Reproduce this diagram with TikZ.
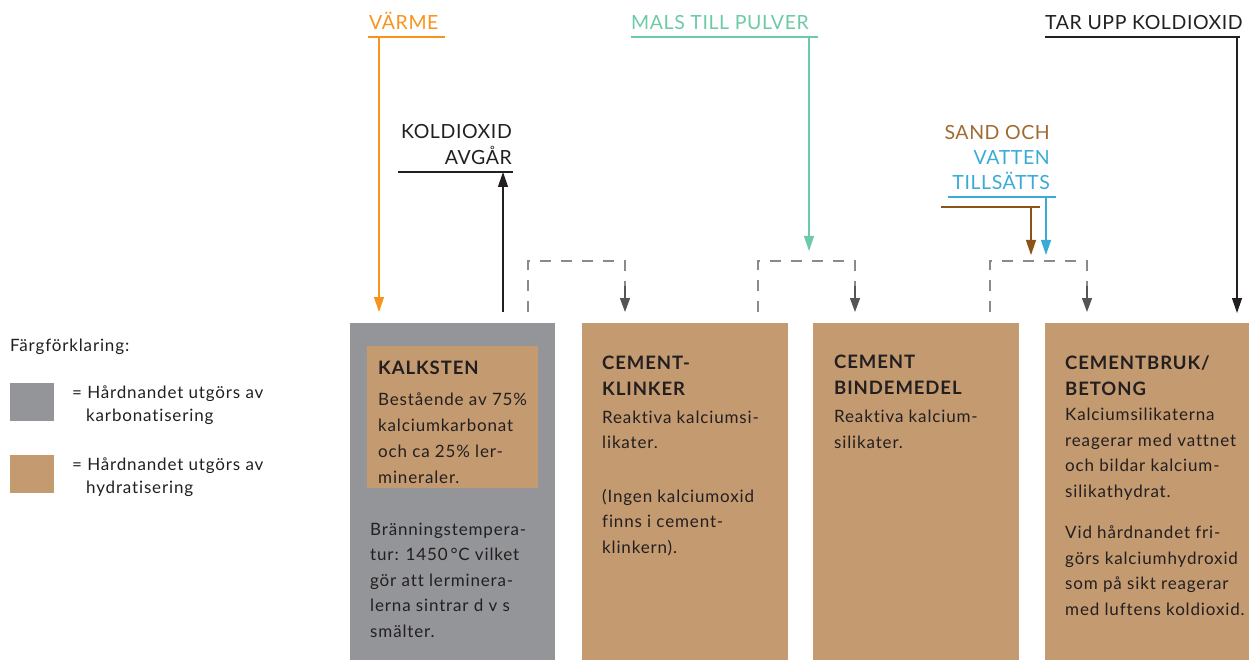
\documentclass[tikz,border=0pt]{standalone}
\usepackage{fontspec}
\setmainfont{Lato}[Ligatures=NoCommon]
\newfontfamily\boxfont{Lato}[LetterSpace=5,Ligatures=NoCommon]
\newfontfamily\labelfont{Lato}[LetterSpace=3,Ligatures=NoCommon]
\usetikzlibrary{arrows.meta,positioning}
\definecolor{kalkgray}{HTML}{939598}
\definecolor{cementtan}{HTML}{C49A70}
\definecolor{heatorange}{HTML}{F7941D}
\definecolor{millgreen}{HTML}{6CCBA6}
\definecolor{waterblue}{HTML}{3AABD6}
\definecolor{sandbrown}{HTML}{8B5316}
\definecolor{sandtext}{HTML}{A06A30}
\definecolor{textdark}{HTML}{231F20}
\definecolor{dashgray}{HTML}{8A8A8A}
\definecolor{tipgray}{HTML}{555555}

\begin{document}
\begin{tikzpicture}[
    x=1pt, y=-1pt,
    stage/.style={rectangle, anchor=north west, inner sep=0pt, minimum width=205pt, minimum height=337pt, fill=cementtan},
    swatch/.style={rectangle, anchor=north west, inner sep=0pt, minimum width=44pt, minimum height=38pt},
    title/.style={anchor=base west, align=left, inner sep=0pt, text=textdark, font=\boxfont\fontsize{18.5}{26}\selectfont\bfseries},
    body/.style={anchor=base west, align=left, inner sep=0pt, text=textdark, font=\boxfont\fontsize{17}{25.5}\selectfont},
    label/.style={anchor=base west, inner sep=0pt, font=\labelfont\fontsize{19.5}{26}\selectfont},
    arrow/.style={-{Triangle[length=15pt,width=10pt]}, line width=1.2pt},
    flow/.style={dashgray, line width=1.3pt, dash pattern=on 11pt off 10pt},
    flowtip/.style={-{Triangle[length=14pt,width=10pt]}, tipgray, line width=1.3pt}
]
\useasboundingbox (0,0) rectangle (1249,660);

% legend (base = last line)
\node[body, font=\boxfont\fontsize{17}{22}\selectfont] (legend) at (10,351) {Färgförklaring:};
\node[swatch, fill=kalkgray] (swgray) at (10,383) {};
\node[swatch, fill=cementtan] (swtan) at (10,455) {};
\node[body, font=\boxfont\fontsize{17}{23}\selectfont] (lgtext1) at (72,421) {= Hårdnandet utgörs av\\\hspace*{14pt}karbonatisering};
\node[body, font=\boxfont\fontsize{17}{23}\selectfont] (lgtext2) at (72,493) {= Hårdnandet utgörs av\\\hspace*{14pt}hydratisering};

% stages
\node[stage, fill=kalkgray] (kalk) at (350,323) {};
\node[rectangle, anchor=north west, inner sep=0pt, minimum width=171pt, minimum height=142pt, fill=cementtan] (kalkin) at (367,346) {};
\node[stage, minimum width=206pt] (klinker) at (582,323) {};
\node[stage, minimum width=206pt] (binde) at (813,323) {};
\node[stage, minimum width=204pt] (betong) at (1045,323) {};

\node[title] (kalkhd) at (378,374) {KALKSTEN};
\node[body, font=\boxfont\fontsize{17}{26}\selectfont] (kalktx) at (378,483) {Bestående av 75\%\\kalciumkarbonat\\och ca 25\% ler-\\mineraler.};
\node[body] (kalktx2) at (370,637) {Bränningstempera-\\tur: 1450\,°C vilket\\gör att lerminera-\\lerna sintrar d v s\\smälter.};

\node[title] (klinkhd) at (602,395) {CEMENT-\\KLINKER};
\node[body] (klinktx) at (602,553) {Reaktiva kalciumsi-\\likater.\\[28pt](Ingen kalciumoxid\\finns i cement-\\klinkern).};

\node[title] (bindhd) at (834,394) {CEMENT\\BINDEMEDEL};
\node[body] (bindtx) at (834,448) {Reaktiva kalcium-\\silikater.};

\node[title] (betonghd) at (1065,395) {CEMENTBRUK/\\BETONG};
\node[body] (betongtx) at (1065,615) {Kalciumsilikaterna\\reagerar med vattnet\\och bildar kalcium-\\silikathydrat.\\[16pt]Vid hårdnandet fri-\\görs kalciumhydroxid\\som på sikt reagerar\\med luftens koldioxid.};

% inputs and outputs
\node[label, text=heatorange] (heat) at (369,30) {VÄRME};
\draw[heatorange, line width=1.2pt] (368,37) -- (445,37);
\coordinate (heatin) at (379,37);
\draw[arrow, heatorange] (heatin) -- (379,312);

\node[label, anchor=base east, align=right, text=textdark] (co2out) at (512,165) {KOLDIOXID\\AVGÅR};
\draw[textdark, line width=1.1pt] (398,172) -- (513,172);
\draw[arrow, textdark] (503,312) -- (503,172);

\node[label, text=millgreen] (mill) at (631,30) {MALS TILL PULVER};
\draw[millgreen, line width=1.2pt] (631,37) -- (818,37);
\draw[arrow, millgreen] (809,37) -- (809,251);

\node[label, text=textdark] (co2in) at (1045,30) {TAR UPP KOLDIOXID};
\draw[textdark, line width=1.1pt] (1045,37) -- (1240,37);
\draw[arrow, textdark] (1237,37) -- (1237,313);

\node[label, anchor=base east, align=right, font=\labelfont\fontsize{19.5}{25}\selectfont] (sandin) at (1050,190) {\textcolor{sandtext}{SAND OCH}\\\textcolor{waterblue}{VATTEN}\\\textcolor{waterblue}{TILLSÄTTS}};
\draw[waterblue, line width=1.2pt] (948,197) -- (1056,197);
\draw[sandbrown, line width=1.2pt] (941,207) -- (1040,207);
\draw[arrow, sandbrown] (1031,207) -- (1031,255);
\draw[arrow, waterblue] (1046,197) -- (1046,255);

% process transitions
\foreach \xa/\xb in {528/625, 758/855, 990/1087} {
  \draw[flow] (\xa,312) -- (\xa,261) -- (\xb,261) -- (\xb,288);
  \draw[flowtip] (\xb,286) -- (\xb,312);
}
\end{tikzpicture}
\end{document}
